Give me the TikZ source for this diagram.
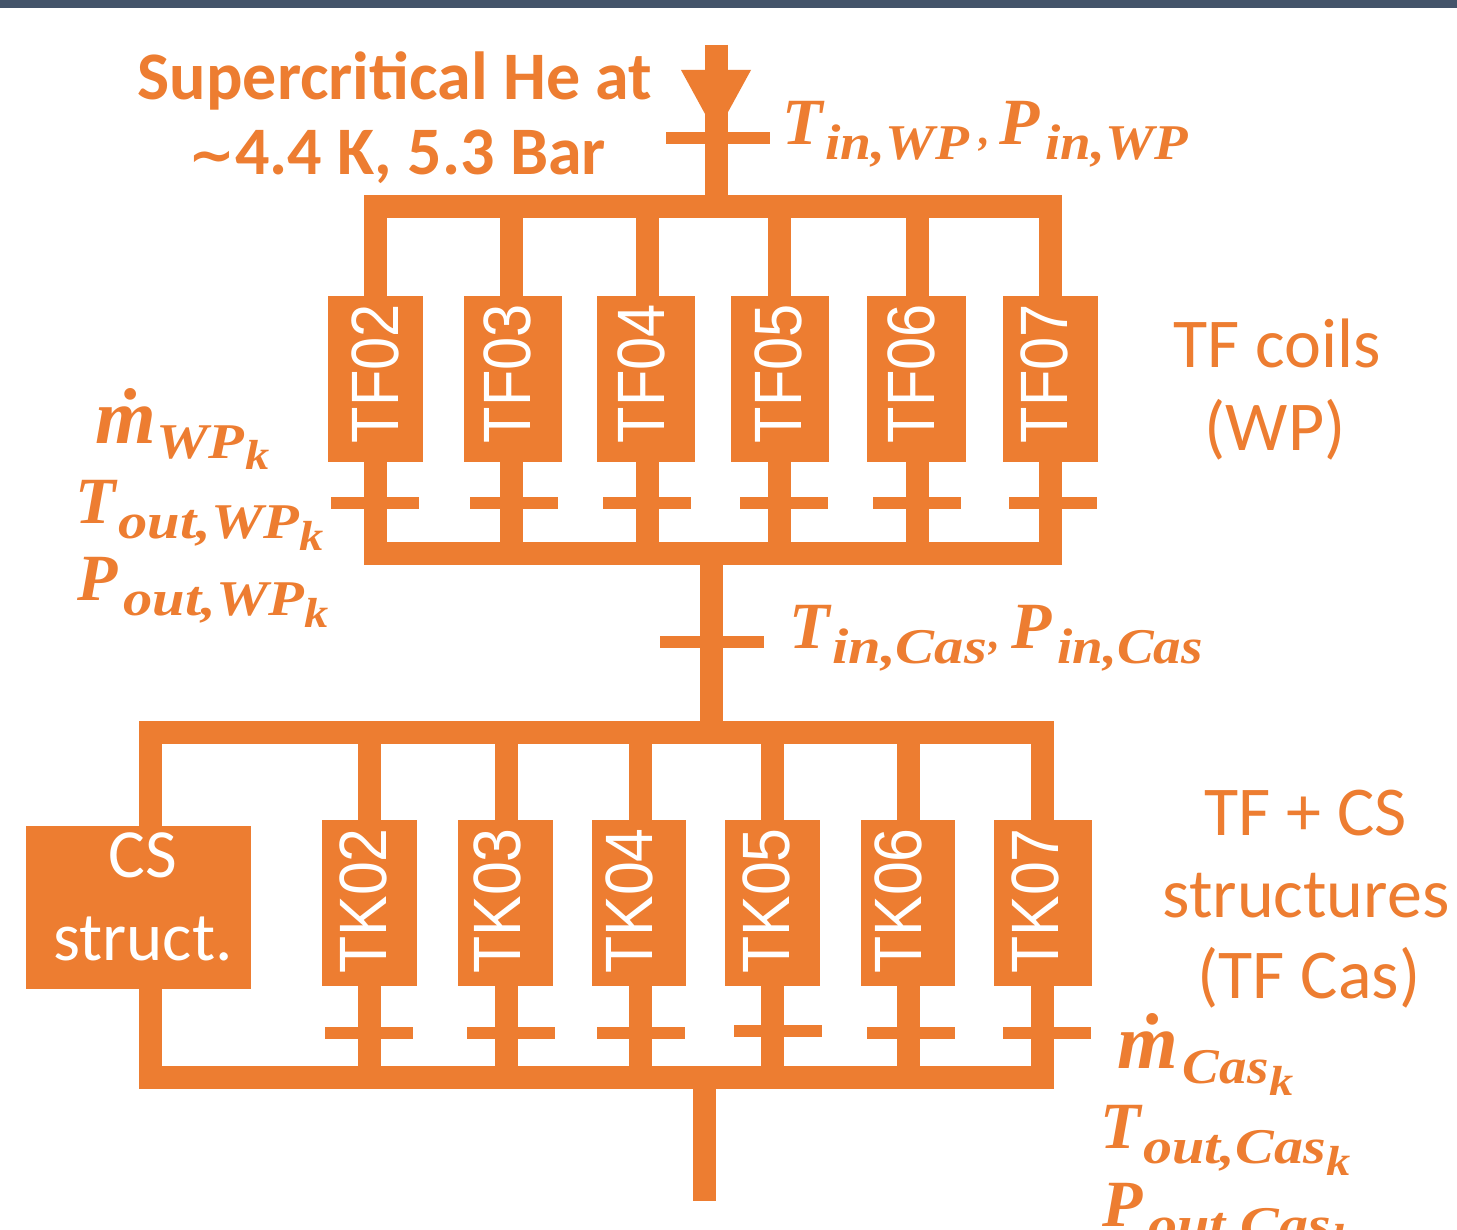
\documentclass[tikz,border=0pt]{standalone}
\usepackage{graphicx}
\usepackage{fontspec}
\setmainfont{Carlito}
\newfontfamily\arialf{Liberation Sans}
\newfontfamily\symf{DejaVu Sans}
\newfontfamily\mathf{Liberation Serif}[BoldItalicFont={Liberation Serif Bold Italic}]
\definecolor{pipeor}{HTML}{ED7D31}
\definecolor{barblue}{HTML}{44546A}
\newcommand{\fs}[1]{\fontsize{#1pt}{#1pt}\selectfont}
% [subscript stretch] main letter, gap, subscript, k
\newcommand{\mlab}[5][1.17]{{\mathf\bfseries\itshape\fs{66}#2\kern#3pt\raisebox{-15pt}{\scalebox{#1}[1]{\fs{50}#4}\kern1pt\raisebox{-12pt}{\scalebox{1.15}[1]{\fs{42}#5}}}}}
\tikzset{
  pipe/.style={line width=23pt,draw=pipeor,line cap=butt,line join=miter},
  tick/.style={line width=12pt,draw=pipeor,line cap=butt},
  coilbox/.style={fill=pipeor,inner sep=0pt,minimum height=166pt},
  boxlabel/.style={text=white,font=\arialf\fs{67},rotate=90,xscale=.89,anchor=base,inner sep=0pt},
  lab/.style={text=pipeor,anchor=base,inner sep=0pt,align=center},
  mlabel/.style={text=pipeor,anchor=base west,inner sep=0pt},
}
\begin{document}
\begin{tikzpicture}[x=1pt,y=-1pt]
\useasboundingbox (0,0) rectangle (1457,1230);
\clip (0,0) rectangle (1457,1230);
\fill[white] (0,0) rectangle (1457,1230);
\fill[barblue] (0,0) rectangle (1457,8);

% --- coil boxes
\foreach \n/\l/\r in {2/328/422.5,3/464/561.5,4/597/694.5,5/731/828.5,6/867/965.5,7/1003/1097.5}{
  \node[coilbox,minimum width={\r pt-\l pt}] (tf\n) at ({(\l+\r)/2},379) {};
}
\foreach \n/\l/\r in {2/322/417,3/458/553,4/592/686,5/725/820,6/861/955,7/994/1092}{
  \node[coilbox,minimum width={\r pt-\l pt}] (tk\n) at ({(\l+\r)/2},903) {};
}
\node[coilbox,minimum width=225pt,minimum height=163pt] (cs) at (138.5,907.5) {};

% --- top manifold
\coordinate (ta) at (375,207); \coordinate (tb) at (1050,207);
\coordinate (ba) at (375,553); \coordinate (bb) at (1050,553);
\foreach \n/\x/\tl/\tr in {2/375/331/419,3/511/470/558,4/647/603/691,5/779/740/828,6/917/873/961,7/1050/1009/1097}{
  \coordinate (u\n) at (\x,207);
  \coordinate (d\n) at (\x,553);
  \draw[pipe] (u\n) -- (u\n |- tf\n.north);
  \draw[pipe] (u\n |- tf\n.south) -- (d\n);
  \coordinate (tl\n) at (\tl,503); \coordinate (tr\n) at (\tr,503);
  \draw[tick] (tl\n) -- (tr\n);
}
\draw[pipe] (ba) -- (ta) -- (tb) -- (bb) -- cycle;

% --- inlet
\coordinate (inl) at (716,45);
\coordinate (inm) at (716,207);
\draw[pipe] (inl) -- (inm);
\fill[pipeor] (681,70) -- (751,70) -- (716,134) -- cycle;
\coordinate (itl) at (666,138); \coordinate (itr) at (770,138);
\draw[tick] (itl) -- (itr);

% --- link between manifolds
\coordinate (lk1) at (711.5,553);
\coordinate (lk2) at (711.5,732);
\draw[pipe] (lk1) -- (lk2);
\coordinate (ltl) at (660,642); \coordinate (ltr) at (764,642);
\draw[tick] (ltl) -- (ltr);

% --- lower manifold
\coordinate (la) at (150,732); \coordinate (lb) at (1042,732);
\coordinate (lc) at (150,1077); \coordinate (ld) at (1042,1077);
\foreach \n/\x/\tl/\tr/\ty in {2/369/325/413/1033,3/506/467/555/1033,4/640/597/685/1033,5/772/734/822/1031,6/908/867/955/1033,7/1042/1003/1091/1033}{
  \coordinate (v\n) at (\x,732);
  \coordinate (w\n) at (\x,1077);
  \draw[pipe] (v\n) -- (v\n |- tk\n.north);
  \draw[pipe] (v\n |- tk\n.south) -- (w\n);
  \coordinate (kl\n) at (\tl,\ty); \coordinate (kr\n) at (\tr,\ty);
  \draw[tick] (kl\n) -- (kr\n);
}
\draw[pipe] (lc |- cs.north) -- (la) -- (lb) -- (ld) -- (lc) -- (lc |- cs.south);
\coordinate (ot1) at (704,1077); \coordinate (ot2) at (704,1201);
\draw[pipe] (ot1) -- (ot2);

% --- box labels
\foreach \n/\x in {2/398,3/530,4/664,5/801,6/934,7/1067}{
  \node[boxlabel] (ltf\n) at (\x,373.5) {TF0\n};
}
\foreach \n/\x in {2/386,3/520,4/652,5/789,6/921,7/1058}{
  \node[boxlabel,xscale=1.02] (ltk\n) at (\x,901) {TK0\n};
}
\node[lab,text=white,font=\fs{69}] (csa) at (143,877) {CS};
\node[lab,text=white,font=\fs{69}] (csb) at (143,960) {struct.};

% --- plain labels
\node[lab,font=\bfseries\fs{68}] (sup1) at (395,100) {Supercritical He at};
\node[lab,font=\bfseries\fs{68}] (sup2) at (397,175) {{\symf\fs{56}∼}4.4 K, 5.3 Bar};
\node[lab,font=\fs{70}] (c1) at (1277.5,368) {TF coils};
\node[lab,font=\fs{70}] (c2) at (1275,450) {(WP)};
\node[lab,font=\fs{70}] (s1) at (1306,835) {TF + CS};
\node[lab,font=\fs{70}] (s2) at (1306,917) {structures};
\node[lab,font=\fs{70}] (s3) at (1309,998) {(TF Cas)};

% --- measurement labels
\node[mlabel] (m1) at (95,443) {\mlab{\fs{78}\.m}{1}{WP}{k}};
\node[mlabel] (m2) at (75,523) {\mlab{T}{3}{out,WP}{k}};
\node[mlabel] (m3) at (77,600) {\mlab{P}{6}{out,WP}{k}};
\node[mlabel] (m4) at (782,145) {\mlab[1.11]{T}{3}{in,WP}{}};
\node[mlabel] (m4c) at (979,145) {\mathf\bfseries\itshape\fs{44},};
\node[mlabel] (m5) at (999,145) {\mlab[1.1]{P}{6}{in,WP}{}};
\node[mlabel] (m6) at (789,648) {\mlab[1.17]{T}{3}{in,Cas}{}};
\node[mlabel] (m6c) at (989,648) {\mathf\bfseries\itshape\fs{44},};
\node[mlabel] (m7) at (1011,648) {\mlab[1.1]{P}{6}{in,Cas}{}};
\node[mlabel] (m8) at (1117,1068) {\mlab[1.1]{\fs{78}\.m}{5}{Cas}{k}};
\node[mlabel] (m9) at (1100,1148) {\mlab[1.16]{T}{3}{out,Cas}{k}};
\node[mlabel] (m10) at (1102,1226) {\mlab[1.16]{P}{6}{out,Cas}{k}};
\end{tikzpicture}
\end{document}
